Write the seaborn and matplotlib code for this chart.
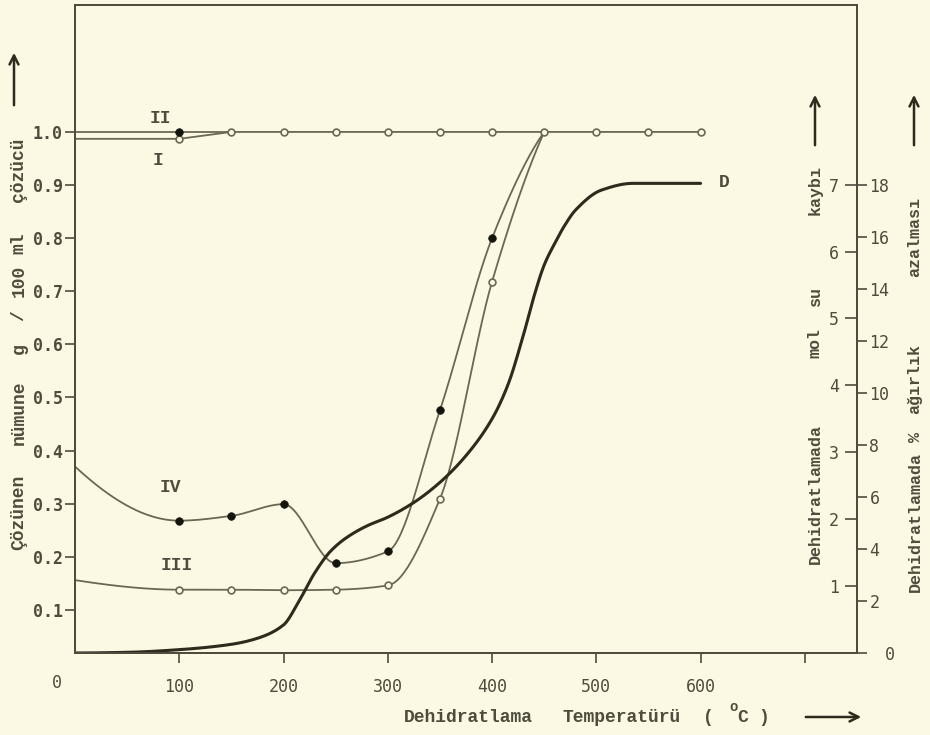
import numpy as np
import pandas as pd
import matplotlib
matplotlib.use("Agg")
import matplotlib.pyplot as plt
import seaborn as sns

# ---- data -------------------------------------------------------------
# dehydration temperature (°C) and dissolved sample (g / 100 ml solvent)
temp_I = [0, 100, 150, 200, 250, 300, 350, 400, 450, 500, 550, 600]
sol_I = [0.987, 0.987, 1.0, 1.0, 1.0, 1.0, 1.0, 1.0, 1.0, 1.0, 1.0, 1.0]
temp_II = [0, 100, 150]
sol_II = [1.0, 1.0, 1.0]

temp_III = [0, 100, 150, 200, 250, 300, 350, 400, 450]
sol_III = [0.156, 0.138, 0.138, 0.137, 0.138, 0.146, 0.309, 0.718, 1.0]
temp_IV = [0, 100, 150, 200, 250, 300, 350, 400, 450]
sol_IV = [0.370, 0.268, 0.277, 0.299, 0.188, 0.210, 0.476, 0.800, 1.0]

# D: mol water lost on dehydration
temp_D = [0, 50, 100, 150, 175, 200, 215, 230, 245, 260, 280, 300, 325,
          350, 375, 400, 415, 430, 440, 450, 460, 470, 480, 505, 535, 600]
mol_D = [0.0, 0.01, 0.05, 0.13, 0.22, 0.42, 0.78, 1.20, 1.52, 1.72, 1.90,
         2.03, 2.25, 2.55, 2.95, 3.50, 4.00, 4.75, 5.32, 5.80, 6.12, 6.40,
         6.62, 6.92, 7.02, 7.02]

x_ticks = [100, 200, 300, 400, 500, 600, 700]
x_tick_labels = ["100", "200", "300", "400", "500", "600", ""]
left_ticks = [0.1, 0.2, 0.3, 0.4, 0.5, 0.6, 0.7, 0.8, 0.9, 1.0]
mol_ticks = [1, 2, 3, 4, 5, 6, 7]
pct_ticks = [0, 2, 4, 6, 8, 10, 12, 14, 16, 18]


def pchip(x, y, xs):
    """Shape-preserving cubic Hermite curve through (x, y)."""
    x = np.asarray(x, float)
    y = np.asarray(y, float)
    h = np.diff(x)
    d = np.diff(y) / h
    n = len(x)
    m = np.zeros(n)
    for k in range(1, n - 1):
        if d[k - 1] * d[k] > 0:
            w1 = 2 * h[k] + h[k - 1]
            w2 = h[k] + 2 * h[k - 1]
            m[k] = (w1 + w2) / (w1 / d[k - 1] + w2 / d[k])

    def end(h0, h1, d0, d1):
        s = ((2 * h0 + h1) * d0 - h0 * d1) / (h0 + h1)
        if np.sign(s) != np.sign(d0):
            return 0.0
        if np.sign(d0) != np.sign(d1) and abs(s) > abs(3 * d0):
            return 3 * d0
        return s

    m[0] = end(h[0], h[1], d[0], d[1])
    m[-1] = end(h[-1], h[-2], d[-1], d[-2])
    i = np.clip(np.searchsorted(x, xs) - 1, 0, n - 2)
    t = (xs - x[i]) / h[i]
    h00 = 2 * t**3 - 3 * t**2 + 1
    h10 = t**3 - 2 * t**2 + t
    h01 = -2 * t**3 + 3 * t**2
    h11 = t**3 - t**2
    return h00 * y[i] + h10 * h[i] * m[i] + h01 * y[i + 1] + h11 * h[i] * m[i + 1]


def smooth_frame(x, y):
    xs = np.linspace(x[0], x[-1], 500)
    return pd.DataFrame({"t": xs, "v": pchip(x, y, xs)})


# ---- style ------------------------------------------------------------
bg = "#fbf8e3"
ink = "#4e4c3c"
line_c = "#6a6853"
dark = "#2f2b1c"

sns.set_style("ticks")
plt.rcParams["font.family"] = ["Liberation Mono", "DejaVu Sans Mono"]
plt.rcParams["axes.edgecolor"] = ink
plt.rcParams["axes.linewidth"] = 1.3
plt.rcParams["xtick.color"] = ink
plt.rcParams["ytick.color"] = ink

W, H = 930, 735
fig = plt.figure(figsize=(W / 100, H / 100), dpi=100)
fig.patch.set_facecolor(bg)


def fx(px):
    return px / W


def fy(py):
    return 1 - py / H


ax = fig.add_axes([fx(75), fy(653), fx(857 - 75), (653 - 5) / H])
ax.set_facecolor(bg)
ax.set_xlim(0, 750)
ax.set_ylim(0.0188, 1.239)

ax2 = ax.twinx()   # mol water lost
ax2.set_ylim(0, 9.686)
ax3 = ax.twinx()   # % weight loss
ax3.set_ylim(0, 9.686 * 18 / 7)

# ---- curves -----------------------------------------------------------
thin = dict(color=line_c, linewidth=1.3, legend=False)

sns.lineplot(x=temp_I, y=sol_I, ax=ax, **thin)
sns.lineplot(x=temp_II, y=sol_II, ax=ax, **thin)
df3 = smooth_frame(temp_III, sol_III)
sns.lineplot(data=df3, x="t", y="v", ax=ax, sort=False, **thin)
df4 = smooth_frame(temp_IV, sol_IV)
sns.lineplot(data=df4, x="t", y="v", ax=ax, sort=False, **thin)
dfD = smooth_frame(temp_D, mol_D)
sns.lineplot(data=dfD, x="t", y="v", ax=ax2, sort=False, color=dark,
             linewidth=2.2, legend=False)

open_kw = dict(s=24, facecolor=bg, edgecolor=line_c, linewidth=1.2,
               zorder=5, legend=False)
fill_kw = dict(s=30, color="#151510", edgecolor="#151510", linewidth=0.5,
               zorder=6, legend=False)

sns.scatterplot(x=temp_I[1:], y=sol_I[1:], ax=ax, **open_kw)
sns.scatterplot(x=temp_III[1:-1], y=sol_III[1:-1], ax=ax, **open_kw)
sns.scatterplot(x=temp_IV[1:-1], y=sol_IV[1:-1], ax=ax, **fill_kw)
sns.scatterplot(x=temp_II[1:2], y=sol_II[1:2], ax=ax, **fill_kw)

# curve names
lab = dict(fontsize=13, fontweight="bold", color=ink,
           family=["Liberation Mono"], ha="center", va="center")
ax.text(82, 1.026, "II", **lab)
ax.text(80, 0.947, "I", **lab)
ax.text(91, 0.331, "IV", **lab)
ax.text(98, 0.183, "III", **lab)
ax2.text(623, 7.03, "D", **lab)

# ---- axes -------------------------------------------------------------
tick_font = ["DejaVu Sans Mono"]
for a in (ax, ax2, ax3):
    for s in a.spines.values():
        s.set_visible(True)
        s.set_color(ink)
        s.set_linewidth(1.3)

ax.set_xticks(x_ticks)
ax.set_xticklabels(x_tick_labels, fontsize=12, color=ink, family=tick_font)
ax.tick_params(axis="x", direction="out", length=7, width=1.2, pad=11)
ax.set_yticks(left_ticks)
ax.set_yticklabels([f"{v:.1f}" for v in left_ticks], fontsize=12,
                   fontweight="bold", color=ink, family=tick_font)
ax.tick_params(axis="y", direction="out", length=7, width=1.2, pad=2)
ax.set_xlabel("")
ax.set_ylabel("")

ax2.set_yticks(mol_ticks)
ax2.set_yticklabels([str(v) for v in mol_ticks], fontsize=12,
                    color=ink, family=tick_font)
ax2.tick_params(axis="y", direction="in", length=9, width=1.2, pad=-13)
plt.setp(ax2.get_yticklabels(), ha="right")
ax2.set_ylabel("")

ax3.set_yticks(pct_ticks)
ax3.set_yticklabels([str(v) if v else "" for v in pct_ticks], fontsize=12,
                    color=ink, family=tick_font)
ax3.tick_params(axis="y", direction="out", length=7, width=1.2, pad=2)
ax3.set_ylabel("")

# origin labels
fig.text(fx(57), fy(683), "0", fontsize=12, color=ink, family=tick_font,
         ha="center", va="center")
fig.text(fx(890), fy(655), "0", fontsize=12, color=ink, family=tick_font,
         ha="center", va="center")

# axis titles, typed word by word
title_kw = dict(fontsize=12, fontweight="bold", color=ink,
                family=["Liberation Mono"], ha="center", va="center")


def words(items, rotation=0, **extra):
    for px, py, s in items:
        kw = dict(title_kw)
        kw.update(extra)
        fig.text(fx(px), fy(py), s, rotation=rotation, **kw)


words([(19, 512, "Çözünen"), (19, 413, "nümune"), (19, 349, "g"),
       (19, 316, "/"), (19, 281, "100"), (19, 243, "ml"),
       (19, 170, "çözücü")], rotation=90, fontsize=13)
words([(815, 494, "Dehidratlamada"), (815, 343, "mol"),
       (815, 296, "su"), (815, 190, "kaybı")], rotation=90)
words([(915, 522, "Dehidratlamada"), (915, 437, "%"),
       (915, 379, "ağırlık"), (915, 237, "azalması")], rotation=90)
words([(468, 717, "Dehidratlama"), (622, 717, "Temperatürü"),
       (708, 717, "("), (743, 718, "C"), (764, 717, ")")], fontsize=13)
words([(734, 707, "o")], fontsize=10)

arrow = dict(arrowstyle="->", color=dark, lw=1.8, mutation_scale=16)
for (x0, y0, x1, y1) in [(14, 108, 14, 50), (815, 148, 815, 92),
                         (914, 148, 914, 92), (803, 717, 864, 717)]:
    ax.annotate("", xy=(fx(x1), fy(y1)), xytext=(fx(x0), fy(y0)),
                xycoords="figure fraction", textcoords="figure fraction",
                arrowprops=arrow, annotation_clip=False)

fig.savefig("out.png", dpi=100, facecolor=bg)
